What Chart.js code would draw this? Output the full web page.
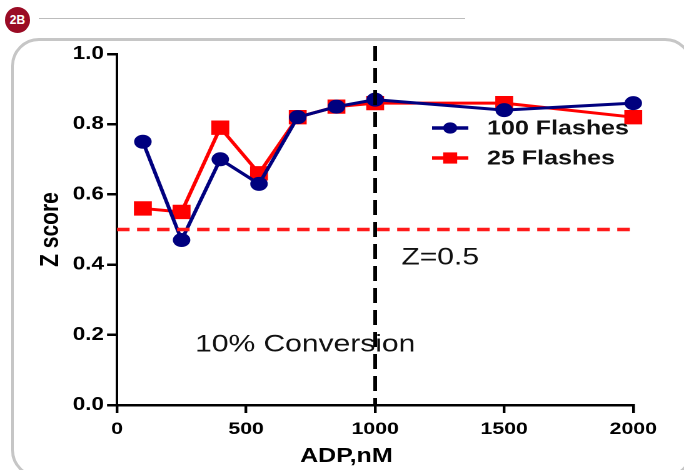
<!DOCTYPE html>
<html>
<head>
<meta charset="utf-8">
<script src="https://cdn.jsdelivr.net/npm/chart.js@4.4.0/dist/chart.umd.min.js"></script>
<style>
  html, body { margin: 0; padding: 0; background: #fff; }
  body { width: 684px; height: 470px; position: relative; overflow: hidden; font-family: 'Liberation Sans', Arial, sans-serif; }
  .badge { position: absolute; left: 5px; top: 7px; width: 25px; height: 26px; border-radius: 50%; background: #9a0b24; color: #fff; font-weight: bold; font-size: 12px; line-height: 26px; text-align: center; }
  .rule { position: absolute; left: 39px; top: 18px; width: 426px; height: 0; border-top: 1.5px solid #bcbcbc; }
  .frame { position: absolute; left: 11px; top: 38px; width: 676px; height: 434px; border: 3px solid #c6c6c6; border-radius: 28px; }
  /* the figure is horizontally stretched in the original, so the canvas is too */
  #wrap { position: absolute; left: 0; top: 0; width: 547px; height: 470px; transform: scaleX(1.2505); transform-origin: 0 0; }
</style>
</head>
<body>
<div class="badge">2B</div>
<div class="rule"></div>
<div class="frame"></div>
<div id="wrap"><canvas id="chart"></canvas></div>
<script>
const adpValues = [100, 250, 400, 550, 700, 850, 1000, 1500, 2000];
const flashes100 = [0.75, 0.47, 0.70, 0.63, 0.82, 0.85, 0.87, 0.84, 0.86];
const flashes25 = [0.56, 0.55, 0.79, 0.66, 0.82, 0.85, 0.86, 0.86, 0.82];
const xTicks = [0, 500, 1000, 1500, 2000];
const yTicks = [0, 0.2, 0.4, 0.6, 0.8, 1.0];
const zThreshold = 0.5;
const conversionAdp = 1000;

const FONT = '"Liberation Sans", Arial, sans-serif';
const toPoints = (ys) => adpValues.map((x, i) => ({ x: x, y: ys[i] }));

// reference lines, notes, x title and legend
const overlay = {
    id: 'overlay',
    afterDatasetsDraw(chart) {
        const { ctx, chartArea, scales } = chart;
        const x = scales.x, y = scales.y;
        ctx.save();

        // Z = 0.5 line
        const yz = y.getPixelForValue(zThreshold);
        ctx.strokeStyle = '#ff1a1a';
        ctx.lineWidth = 3.5;
        ctx.setLineDash([10, 6]);
        ctx.beginPath();
        ctx.moveTo(chartArea.left, yz);
        ctx.lineTo(x.getPixelForValue(2000) + 2.5, yz);
        ctx.stroke();

        // 10% conversion line
        const xc = x.getPixelForValue(conversionAdp);
        ctx.strokeStyle = '#000';
        ctx.lineWidth = 3;
        ctx.setLineDash([15, 7]);
        ctx.beginPath();
        ctx.moveTo(xc, chartArea.top - 8);
        ctx.lineTo(xc, chartArea.bottom);
        ctx.stroke();
        ctx.setLineDash([]);

        ctx.fillStyle = '#111';
        ctx.font = '24px ' + FONT;
        ctx.textBaseline = 'alphabetic';
        ctx.textAlign = 'left';
        ctx.fillText('Z=0.5', xc + 21, yz + 35);
        ctx.fillText('10% Conversion', 156, 351.5);

        // x axis title (sits a little left of centre in the original)
        ctx.fillStyle = '#000';
        ctx.font = 'bold 20px ' + FONT;
        ctx.textAlign = 'center';
        ctx.fillText('ADP,nM', (chartArea.left + chartArea.right) / 2 - 23, 462);

        // legend
        const items = [
            { label: '100 Flashes', color: '#00007f', square: false, yy: 128 },
            { label: '25 Flashes', color: '#ff0000', square: true, yy: 158 }
        ];
        ctx.textAlign = 'left';
        items.forEach(it => {
            ctx.strokeStyle = it.color;
            ctx.fillStyle = it.color;
            ctx.lineWidth = 3.5;
            ctx.beginPath();
            ctx.moveTo(345.5, it.yy);
            ctx.lineTo(374.5, it.yy);
            ctx.stroke();
            if (it.square) {
                ctx.fillRect(360 - 5.6, it.yy - 5.6, 11.2, 11.2);
            } else {
                ctx.beginPath();
                ctx.arc(360, it.yy, 5.6, 0, Math.PI * 2);
                ctx.fill();
            }
            ctx.fillStyle = '#111';
            ctx.font = 'bold 20px ' + FONT;
            ctx.textBaseline = 'middle';
            ctx.fillText(it.label, 389.5, it.yy + 1);
        });
        ctx.restore();
    }
};

new Chart(document.getElementById('chart'), {
    type: 'line',
    data: {
        datasets: [{
            label: '100 Flashes',
            data: toPoints(flashes100),
            borderColor: '#00007f',
            backgroundColor: '#00007f',
            borderWidth: 3,
            pointStyle: 'circle',
            pointRadius: 5.5,
            pointHoverRadius: 5.5,
            tension: 0
        }, {
            label: '25 Flashes',
            data: toPoints(flashes25),
            borderColor: '#ff0000',
            backgroundColor: '#ff0000',
            borderWidth: 3,
            pointStyle: 'rect',
            pointRadius: 8,
            pointHoverRadius: 8,
            tension: 0
        }]
    },
    options: {
        responsive: true,
        maintainAspectRatio: false,
        devicePixelRatio: 2,
        animation: false,
        clip: false,
        layout: { padding: { left: 28, top: 54, right: 40.6, bottom: 0 } },
        plugins: { legend: { display: false }, tooltip: { enabled: false } },
        scales: {
            x: {
                type: 'linear',
                min: 0,
                max: 2000,
                afterBuildTicks: (s) => { s.ticks = xTicks.map(v => ({ value: v })); },
                afterFit: (s) => { s.height = 65; },
                border: { display: true, color: '#000', width: 2.5 },
                grid: { drawOnChartArea: false, drawTicks: true, tickLength: 8, color: '#000', lineWidth: 2.2 },
                ticks: { color: '#000', font: { family: FONT, size: 17, weight: 'bold' }, padding: 6, maxRotation: 0, callback: (v) => String(v) }
            },
            y: {
                min: 0,
                max: 1,
                afterBuildTicks: (s) => { s.ticks = yTicks.map(v => ({ value: v })); },
                afterFit: (s) => { s.width = 65.6; },
                border: { display: true, color: '#000', width: 2 },
                grid: { drawOnChartArea: false, drawTicks: true, tickLength: 8, color: '#000', lineWidth: 2.5 },
                ticks: { color: '#000', font: { family: FONT, size: 18, weight: 'bold' }, padding: 2.5, callback: (v) => Number(v).toFixed(1) },
                title: { display: true, text: 'Z score', color: '#000', font: { family: FONT, size: 21, weight: 'bold' }, padding: { top: 0, bottom: 0 } }
            }
        }
    },
    plugins: [overlay]
});
</script>
</body>
</html>
